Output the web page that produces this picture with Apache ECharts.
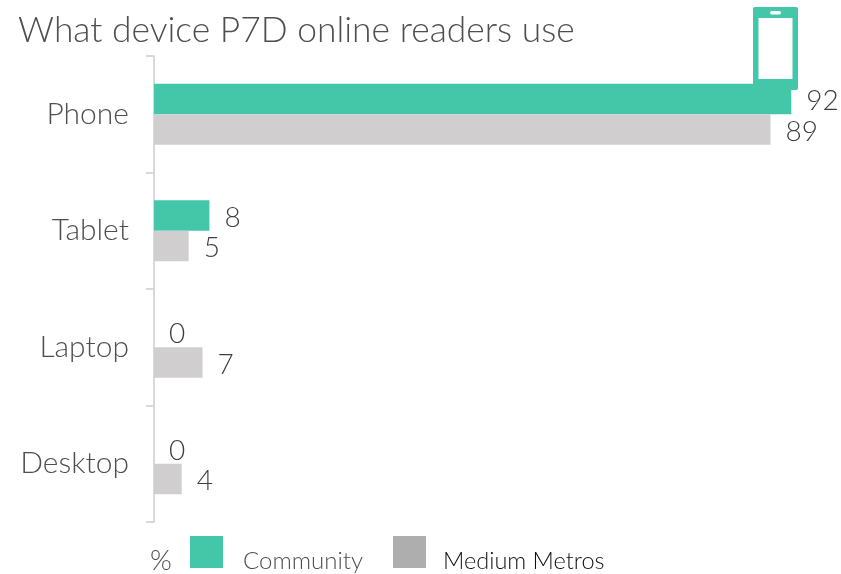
<!DOCTYPE html>
<html>
<head>
<meta charset="utf-8">
<style>
  html, body { margin: 0; padding: 0; background: #fff; }
  #chart { width: 841px; height: 574px; }
</style>
<script src="https://cdn.jsdelivr.net/npm/echarts@6/dist/echarts.min.js"></script>
</head>
<body>
<div id="chart"></div>
<script>
const categories = ['Phone', 'Tablet', 'Laptop', 'Desktop']
const community = [92, 8, 0, 0]
const mediumMetros = [89, 5, 7, 4]

const green = '#44c6a8'
const fontFamily = 'Lato'

const chart = echarts.init(document.getElementById('chart'))

const labelStyle = {
  show: true,
  position: 'right',
  distance: 15,
  offset: [0, 2],
  fontFamily,
  fontWeight: 300,
  fontSize: 28,
  color: '#3f3f3f'
}

chart.setOption({
  animation: false,
  title: {
    text: 'What device P7D online readers use',
    left: 13,
    top: 8,
    textStyle: { fontFamily, fontSize: 35.4, fontWeight: 300, color: '#4f4f4f' }
  },
  legend: {
    left: 185,
    top: 531,
    itemWidth: 33,
    itemHeight: 32,
    itemGap: 30,
    icon: 'rect',
    selectedMode: false,
    formatter: name => (name === 'Community' ? `{a|${name}}` : `{b|${name}}`),
    textStyle: {
      rich: {
        // the extra top padding pushes the text below the middle of the swatch
        a: { fontFamily, fontWeight: 300, fontSize: 24, color: '#4f4f4f', padding: [18, 0, 0, 15] },
        b: { fontFamily, fontWeight: 300, fontSize: 23.5, color: '#111111', padding: [18, 0, 0, 12] }
      }
    },
    data: [
      { name: 'Community', itemStyle: { color: green } },
      { name: 'Medium Metros', itemStyle: { color: '#aeaeae' } }
    ]
  },
  grid: { left: 154, top: 56, width: 665, height: 466 },
  xAxis: { type: 'value', min: 0, max: 96, show: false },
  yAxis: {
    type: 'category',
    inverse: true,
    data: categories,
    axisLine: { lineStyle: { color: '#d9d9d9', width: 2 } },
    axisTick: { show: true, length: 8, lineStyle: { color: '#d9d9d9', width: 2 } },
    axisLabel: { margin: 25, fontFamily, fontWeight: 300, fontSize: 30, color: '#4f4f4f', padding: [3, 0, 0, 0] },
    splitLine: { show: false }
  },
  series: [
    {
      name: 'Community',
      type: 'bar',
      data: community,
      barWidth: 30.5,
      barGap: 0,
      itemStyle: { color: green },
      label: labelStyle
    },
    {
      name: 'Medium Metros',
      type: 'bar',
      data: mediumMetros,
      barWidth: 30.5,
      itemStyle: { color: '#d0cece' },
      label: labelStyle
    }
  ],
  graphic: [
    // percent sign next to the legend
    { type: 'text', left: 150, top: 547, style: { text: '%', fontFamily, fontWeight: 300, fontSize: 28, fill: '#4f4f4f' } },
    // phone icon sitting on top of the bar
    { type: 'rect', z: 10, shape: { x: 753, y: 7, width: 45, height: 83, r: 2 }, style: { fill: green } },
    { type: 'rect', z: 11, shape: { x: 758.5, y: 18, width: 34, height: 61 }, style: { fill: '#fff' } },
    { type: 'rect', z: 11, shape: { x: 770, y: 11, width: 11, height: 3.5, r: 1.7 }, style: { fill: '#fff' } }
  ]
})
</script>
</body>
</html>
